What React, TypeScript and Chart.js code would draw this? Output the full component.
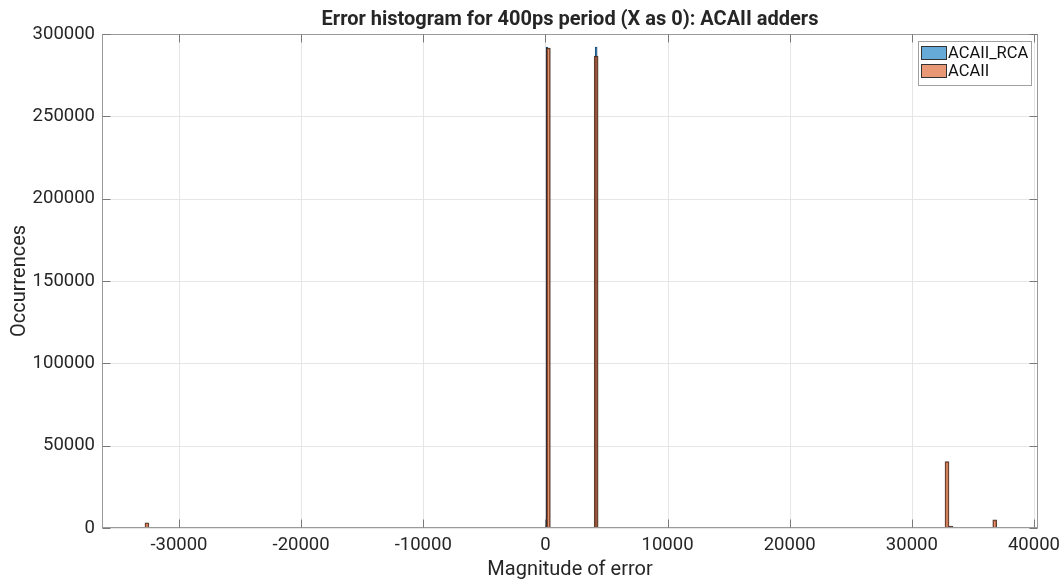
import React, { useEffect, useRef } from 'react';
import { Chart, registerables } from 'chart.js';
Chart.register(...registerables);

const chartTitle = 'Error histogram for 400ps period (X as 0): ACAII adders';
const xLabel = 'Magnitude of error';
const yLabel = 'Occurrences';
const xTicks = [-30000, -20000, -10000, 0, 10000, 20000, 30000, 40000];
const yTicks = [0, 50000, 100000, 150000, 200000, 250000, 300000];
const xMin = -36300;
const xMax = 40330;
const yMax = 300000;

const seriesNames = ['ACAII_RCA', 'ACAII'];
const rcaBins = [130, 4155];
const rcaCounts = [292000, 292100];
const acaiiBins = [-32620, 245, 4155, 32880, 33210, 36790];
const acaiiCounts = [3200, 291500, 286600, 40300, 1200, 4900];

const blueFill = 'rgba(0,114,189,0.6)';
const orangeFill = 'rgba(217,83,25,0.6)';
const textColor = '#262626';
const FONT = 'Roboto, "Noto Sans", sans-serif';

const decor = {
  id: 'decor',
  beforeDatasetsDraw(chart: any) {
    const { ctx, chartArea: a, scales } = chart;
    ctx.save();
    ctx.strokeStyle = '#e6e6e6';
    ctx.lineWidth = 1;
    ctx.beginPath();
    for (const v of xTicks) {
      const px = Math.round(scales.x.getPixelForValue(v)) + 0.5;
      ctx.moveTo(px, a.top); ctx.lineTo(px, a.bottom);
    }
    for (const v of yTicks) {
      const py = Math.round(scales.y.getPixelForValue(v)) + 0.5;
      ctx.moveTo(a.left, py); ctx.lineTo(a.right, py);
    }
    ctx.stroke();
    ctx.restore();
  },
  afterDraw(chart: any) {
    const { ctx, chartArea: a, scales } = chart;
    ctx.save();
    const L = Math.round(a.left) + 0.5;
    const R = Math.round(a.right) - 0.5;
    const T = Math.round(a.top) + 0.5;
    const B = Math.round(a.bottom) - 0.5;
    ctx.strokeStyle = '#9a9a9a';
    ctx.lineWidth = 1;
    ctx.strokeRect(L, T, R - L, B - T);
    ctx.strokeStyle = '#7a7a7a';
    ctx.beginPath();
    for (const v of xTicks) {
      const px = Math.round(scales.x.getPixelForValue(v)) + 0.5;
      ctx.moveTo(px, B); ctx.lineTo(px, B - 8);
      ctx.moveTo(px, T); ctx.lineTo(px, T + 8);
    }
    for (const v of yTicks) {
      const py = Math.round(scales.y.getPixelForValue(v)) + 0.5;
      ctx.moveTo(L, py); ctx.lineTo(L + 8, py);
      ctx.moveTo(R, py); ctx.lineTo(R - 8, py);
    }
    ctx.stroke();

    ctx.fillStyle = textColor;
    ctx.textAlign = 'center';
    ctx.textBaseline = 'middle';
    ctx.font = `bold 20px ${FONT}`;
    ctx.fillText(chartTitle, (a.left + a.right) / 2, 20);
    ctx.font = `20px ${FONT}`;
    ctx.fillText(xLabel, (a.left + a.right) / 2, 570);
    ctx.save();
    ctx.translate(20, (a.top + a.bottom) / 2);
    ctx.rotate(-Math.PI / 2);
    ctx.fillText(yLabel, 0, 0);
    ctx.restore();

    // legend box (top right inside axes)
    const bx = a.right - 120, by = a.top + 7, bw = 114, bh = 45;
    ctx.fillStyle = '#ffffff';
    ctx.fillRect(bx, by, bw, bh);
    ctx.strokeStyle = '#a0a0a0';
    ctx.strokeRect(bx + 0.5, by + 0.5, bw - 1, bh - 1);
    const fills = [blueFill, orangeFill];
    ctx.font = `16.5px ${FONT}`;
    ctx.textAlign = 'left';
    seriesNames.forEach((n, i) => {
      const sy = by + 5 + i * 18;
      ctx.fillStyle = fills[i];
      ctx.fillRect(bx + 3, sy, 26, 14);
      ctx.strokeStyle = '#333';
      ctx.strokeRect(bx + 3.5, sy + 0.5, 25, 13);
      ctx.fillStyle = '#111';
      ctx.fillText(n, bx + 30, sy + 8);
    });
    ctx.restore();
  },
};

export default function App() {
  const ref = useRef<HTMLCanvasElement>(null);
  useEffect(() => {
    const chart = new Chart(ref.current!, {
      type: 'bar',
      data: {
        datasets: [
          {
            label: seriesNames[0],
            data: rcaBins.map((x, i) => ({ x, y: rcaCounts[i] })),
            backgroundColor: blueFill,
            borderColor: 'rgba(20,40,60,0.9)',
            borderWidth: 0.5,
            barThickness: 2,
            grouped: false,
            order: 2,
          } as any,
          {
            label: seriesNames[1],
            data: acaiiBins.map((x, i) => ({ x, y: acaiiCounts[i] })),
            backgroundColor: orangeFill,
            borderColor: 'rgba(50,30,20,0.85)',
            borderWidth: 1,
            barThickness: 4,
            grouped: false,
            order: 1,
          } as any,
        ],
      },
      options: {
        animation: false,
        responsive: false,
        devicePixelRatio: 1,
        layout: { padding: { top: 34, right: 24, left: 0, bottom: 0 } },
        plugins: { legend: { display: false }, tooltip: { enabled: false }, title: { display: false } },
        scales: {
          x: {
            type: 'linear',
            min: xMin,
            max: xMax,
            offset: false,
            afterBuildTicks: (s: any) => { s.ticks = xTicks.map((v) => ({ value: v })); },
            afterFit: (s: any) => { s.height = 55; s.paddingLeft = 0; s.paddingRight = 0; },
            grid: { display: false, drawTicks: false, tickLength: 0 },
            border: { display: false },
            ticks: {
              color: textColor,
              font: { family: FONT, size: 18.5 },
              padding: 6,
              maxRotation: 0,
              autoSkip: false,
              callback: (v: any) => String(v),
            },
          },
          y: {
            type: 'linear',
            min: 0,
            max: yMax,
            afterBuildTicks: (s: any) => { s.ticks = yTicks.map((v) => ({ value: v })); },
            afterFit: (s: any) => { s.width = 102; s.paddingTop = 0; s.paddingBottom = 0; },
            grid: { display: false, drawTicks: false, tickLength: 0 },
            border: { display: false },
            ticks: {
              color: textColor,
              font: { family: FONT, size: 18.5 },
              padding: 7,
              autoSkip: false,
              callback: (v: any) => String(v),
            },
          },
        },
      },
      plugins: [decor],
    } as any);
    return () => chart.destroy();
  }, []);
  return (
    <div style={{ position: 'absolute', left: 0, top: 0, width: 1062, height: 583, background: '#fff' }}>
      <canvas ref={ref} width={1062} height={583} />
    </div>
  );
}
